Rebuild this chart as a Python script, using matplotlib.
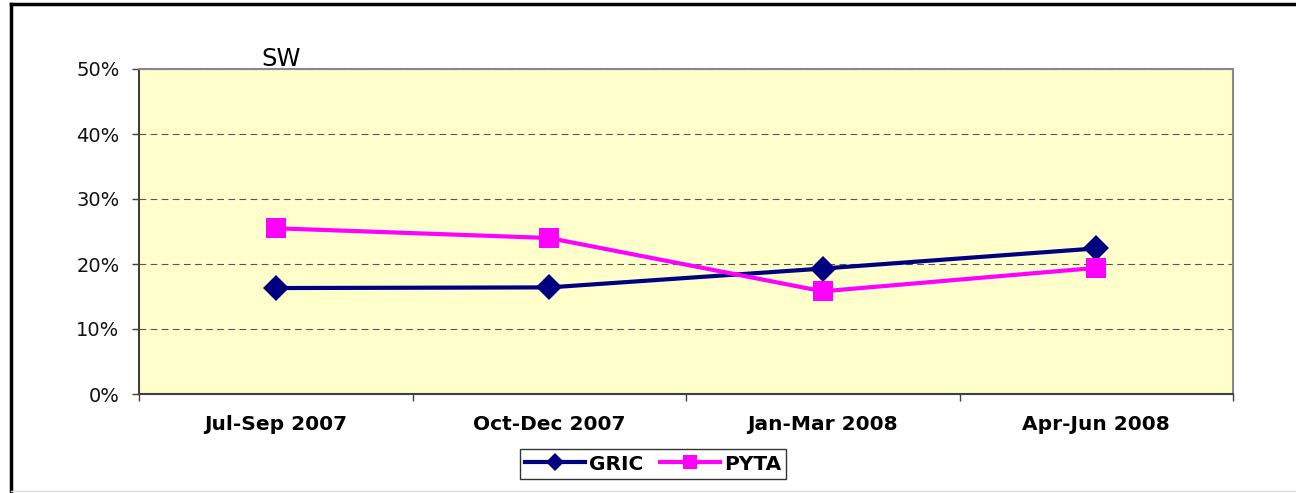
import matplotlib.pyplot as plt
from matplotlib.lines import Line2D
from matplotlib.ticker import FixedLocator, PercentFormatter

# Chart data
quarters = ["Jul-Sep 2007", "Oct-Dec 2007", "Jan-Mar 2008", "Apr-Jun 2008"]
gric = [16.3, 16.4, 19.3, 22.4]
pyta = [25.5, 24.0, 15.8, 19.4]
title = "SW"

plt.rcParams["font.family"] = "DejaVu Sans"

fig = plt.figure(figsize=(12.96, 4.93), dpi=100)
ax = fig.add_axes([139 / 1296, 1 - 394 / 493, (1233 - 139) / 1296, (394 - 69) / 493])
ax.set_facecolor("#FFFFCC")

x = list(range(len(quarters)))
ax.plot(x, gric, color="#000080", lw=3, marker="D", ms=13, mew=0, zorder=3)
ax.plot(x, pyta, color="#FF00FF", lw=3, marker="s", ms=14, mew=0, zorder=3)

ax.set_xlim(-0.5, len(quarters) - 0.5)
ax.set_ylim(0, 50)
ax.set_yticks(range(0, 51, 10))
ax.yaxis.set_major_formatter(PercentFormatter(decimals=0))
ax.yaxis.grid(True, color="#555555", linestyle=(0, (6, 4)), lw=0.8)
ax.set_axisbelow(True)

# category labels centred, tick marks on boundaries
ax.set_xticks(x)
ax.set_xticklabels(quarters, fontweight="bold", fontsize=14.5)
ax.tick_params(axis="x", which="major", length=0, pad=15)
ax.xaxis.set_minor_locator(FixedLocator([i - 0.5 for i in range(len(quarters) + 1)]))
ax.tick_params(axis="x", which="minor", length=5, color="#404040", width=1)
ax.tick_params(axis="y", length=5, color="#404040", width=1, labelsize=14,
               labelcolor="#111111", pad=9)

for side in ["left", "bottom"]:
    ax.spines[side].set_color("#404040")
    ax.spines[side].set_linewidth(1.5)
for side in ["top", "right"]:
    ax.spines[side].set_color("#888888")
    ax.spines[side].set_linewidth(1.5)

ax.text(0.02, 50.5, title, fontsize=17.5, ha="center", va="baseline", transform=ax.transData)

# legend uses smaller markers, like the original
handles = [
    Line2D([], [], color="#000080", lw=3, marker="D", ms=9, mew=0),
    Line2D([], [], color="#FF00FF", lw=3, marker="s", ms=10, mew=0),
]
leg = fig.legend(handles, ["GRIC", "PYTA"], loc="center",
                 bbox_to_anchor=(653 / 1296, 1 - 464 / 493), ncol=2,
                 frameon=True, fancybox=False, edgecolor="black", handlelength=3.0,
                 handletextpad=0.2, columnspacing=0.8, borderpad=0.25,
                 prop={"weight": "bold", "size": 14.5})
leg.get_frame().set_linewidth(1)

# outer chart frame
fig.add_artist(Line2D([11 / 1296, 11 / 1296], [0, 1 - 4 / 493], color="black", lw=2.5,
                      transform=fig.transFigure))
fig.add_artist(Line2D([11 / 1296, 1], [1 - 4 / 493, 1 - 4 / 493], color="black", lw=2.5,
                      transform=fig.transFigure))
fig.add_artist(Line2D([11 / 1296, 1], [2 / 493, 2 / 493], color="#dddddd", lw=1,
                      transform=fig.transFigure))

fig.savefig("out.png", dpi=100)
